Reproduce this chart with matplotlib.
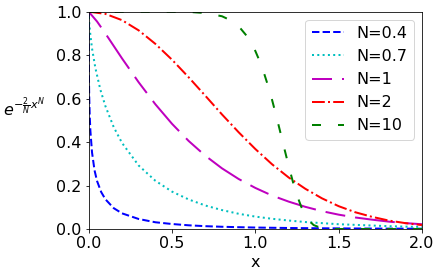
import matplotlib
matplotlib.use("Agg")
import matplotlib.pyplot as plt

# N = 0.4 (blue, dashed)
x_n04 = [0.0, 0.0002, 0.001, 0.003, 0.006, 0.01, 0.02, 0.035, 0.05, 0.075, 0.1, 0.15,
         0.2, 0.3, 0.4, 0.5, 0.6, 0.7, 0.8, 0.9, 1.0, 1.2, 1.4, 1.6, 1.8, 2.0]
y_n04 = [1.0, 0.847, 0.729, 0.613, 0.524, 0.453, 0.352, 0.270, 0.221, 0.170, 0.137, 0.096,
         0.072, 0.046, 0.031, 0.023, 0.017, 0.013, 0.0103, 0.0083, 0.0067, 0.0046, 0.0033,
         0.0024, 0.0018, 0.0014]

# N = 0.7 (cyan, dotted)
x_n07 = [0.0, 0.002, 0.005, 0.01, 0.02, 0.04, 0.07, 0.1, 0.15, 0.2, 0.3, 0.4, 0.5, 0.6,
         0.7, 0.8, 0.9, 1.0, 1.1, 1.2, 1.3, 1.4, 1.5, 1.6, 1.7, 1.8, 1.9, 2.0]
y_n07 = [1.0, 0.964, 0.932, 0.893, 0.831, 0.741, 0.641, 0.566, 0.469, 0.396, 0.292, 0.222,
         0.172, 0.136, 0.108, 0.087, 0.070, 0.057, 0.047, 0.039, 0.032, 0.027, 0.022, 0.019,
         0.016, 0.013, 0.011, 0.0096]

# N = 1 (magenta, long dashes)
x_n1 = [0.0, 0.05, 0.1, 0.2, 0.3, 0.4, 0.5, 0.6, 0.7, 0.8, 0.9, 1.0, 1.1, 1.2, 1.3, 1.4,
        1.5, 1.6, 1.7, 1.8, 1.9, 2.0]
y_n1 = [1.0, 0.955, 0.900, 0.785, 0.675, 0.574, 0.484, 0.405, 0.337, 0.279, 0.230, 0.189,
        0.154, 0.126, 0.102, 0.082, 0.066, 0.053, 0.043, 0.034, 0.027, 0.022]

# N = 2 (red, dash-dot)
x_n2 = [0.0, 0.1, 0.2, 0.3, 0.4, 0.5, 0.6, 0.7, 0.8, 0.9, 1.0, 1.1, 1.2, 1.3, 1.4, 1.5,
        1.6, 1.7, 1.8, 1.9, 2.0]
y_n2 = [1.0, 0.990, 0.961, 0.914, 0.852, 0.779, 0.698, 0.613, 0.527, 0.445, 0.368, 0.298,
        0.237, 0.185, 0.141, 0.105, 0.077, 0.056, 0.039, 0.027, 0.018]

# N = 10 (green, sparse dashes)
x_n10 = [0.0, 0.5, 0.6, 0.7, 0.8, 0.85, 0.9, 0.95, 1.0, 1.025, 1.05, 1.075, 1.1, 1.125,
         1.15, 1.175, 1.2, 1.225, 1.25, 1.275, 1.3, 1.325, 1.35, 1.4, 1.45, 1.5, 2.0]
y_n10 = [1.0, 1.0, 0.999, 0.994, 0.979, 0.961, 0.933, 0.887, 0.819, 0.774, 0.722, 0.662,
         0.595, 0.522, 0.445, 0.367, 0.290, 0.218, 0.155, 0.103, 0.063, 0.036, 0.018,
         0.0031, 0.0003, 0.0, 0.0]

labels = ["N=0.4", "N=0.7", "N=1", "N=2", "N=10"]
xticks = [0.0, 0.5, 1.0, 1.5, 2.0]
yticks = [0.0, 0.2, 0.4, 0.6, 0.8, 1.0]

W, H, DPI = 442, 275, 72
fig = plt.figure(figsize=(W / DPI, H / DPI), dpi=DPI)
ax = fig.add_axes([88.7 / W, 1 - 229 / H, (422 - 88.7) / W, (229 - 11.7) / H])

lw = 2
ax.plot(x_n04, y_n04, color="b", linestyle="--", lw=lw, label=labels[0])
ax.plot(x_n07, y_n07, color="c", linestyle=":", lw=lw, label=labels[1])
ax.plot(x_n1, y_n1, color="m", linestyle=(0, (10, 5, 20, 5)), lw=lw, label=labels[2])
ax.plot(x_n2, y_n2, color="r", linestyle="-.", lw=lw, label=labels[3])
ax.plot(x_n10, y_n10, color="g", linestyle=(0, (4.5, 8.5)), lw=lw, label=labels[4])

ax.set_xlim(0, 2)
ax.set_ylim(0, 1)
ax.set_xticks(xticks)
ax.set_yticks(yticks)
ax.tick_params(labelsize=16)
ax.set_xlabel("x", fontsize=16)
ax.set_ylabel(r"$e^{-\frac{2}{N}x^N}$", fontsize=16, rotation=0, ha="right", va="center")
ax.yaxis.set_label_coords(-0.131, 0.56)
ax.legend(loc="upper right", fontsize=16)

fig.savefig("out.png", dpi=DPI)
